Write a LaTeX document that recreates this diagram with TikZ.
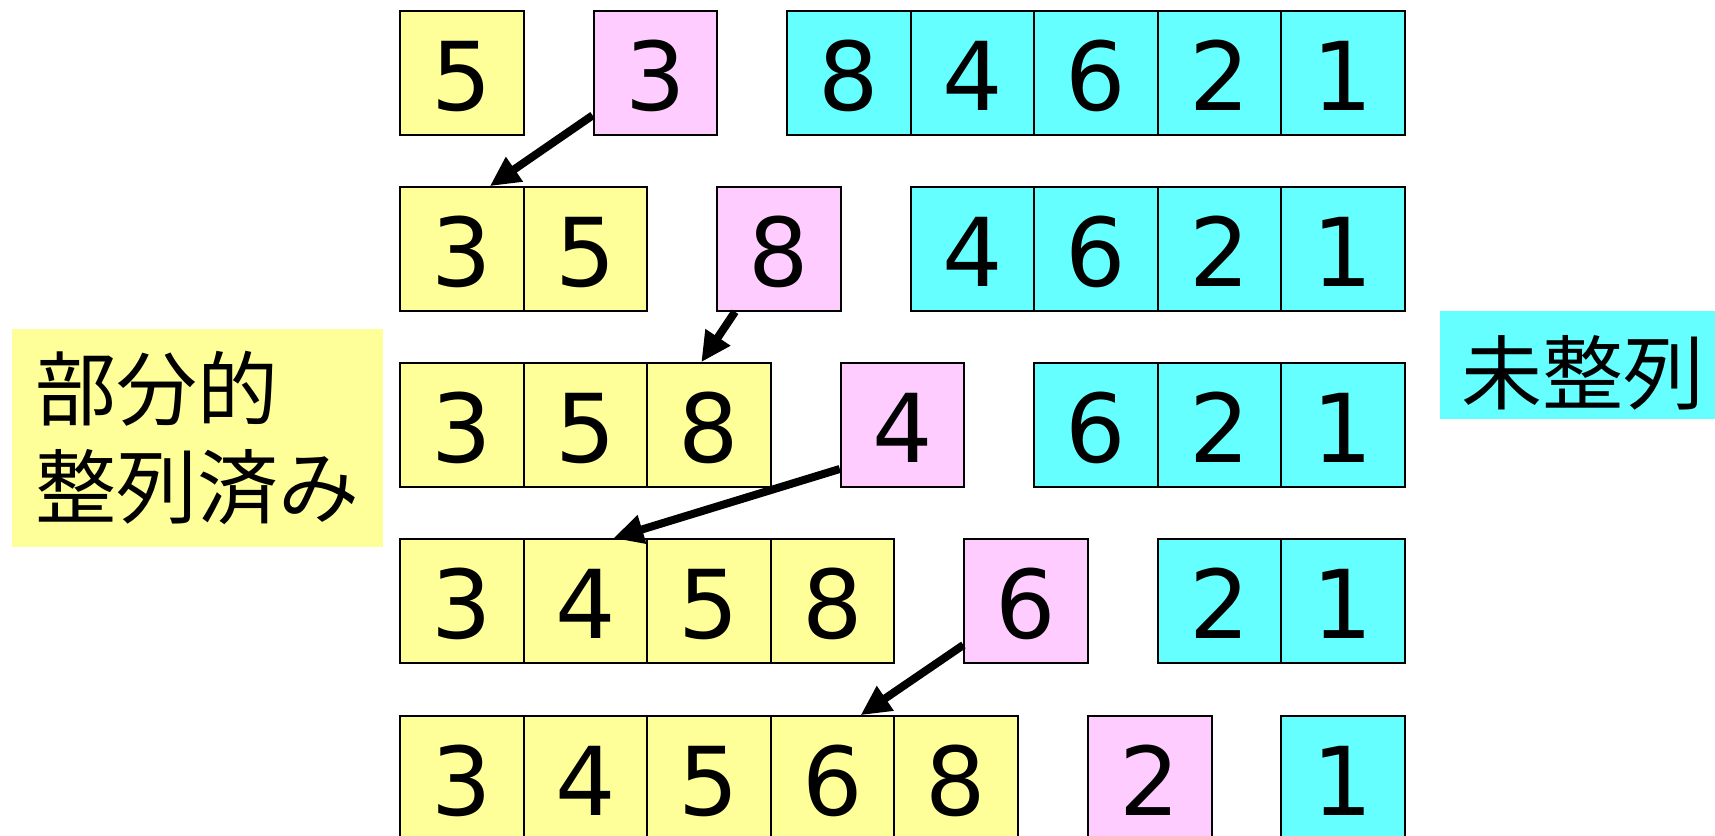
\documentclass[tikz,border=0pt]{standalone}
\usepackage{fontspec}
\setmainfont{DejaVu Sans}
\newfontfamily\jpfont{Noto Sans CJK JP}
\usetikzlibrary{arrows.meta}
\definecolor{sortedfill}{HTML}{FFFF99}
\definecolor{keyfill}{HTML}{FFCCFF}
\definecolor{restfill}{HTML}{66FFFF}

\begin{document}
\begin{tikzpicture}[x=0.5pt, y=-0.5pt,
  cell/.style={draw=black, line width=1pt, minimum size=61.8pt,
    inner sep=0pt, text height=37pt, text depth=0pt,
    font=\fontsize{47.5}{57}\selectfont},
  done/.style={cell, fill=sortedfill},
  key/.style={cell, fill=keyfill},
  rest/.style={cell, fill=restfill},
  move/.style={line width=4pt, -{Triangle[length=15pt, width=14pt]}},
  tag/.style={inner sep=0pt, font=\jpfont\fontsize{40.5}{49}\selectfont}]
  \useasboundingbox (0,0) rectangle (1715,836);
  \clip (0,0) rectangle (1715,836);

  % Row 1: 5 | 3 | 8 4 6 2 1
  \node[done] (s11) at (461.8,73) {5};
  \node[key]  (k1)  at (655.4,73) {3};
  \node[rest] (u11) at (849.2,73) {8};
  \node[rest] (u12) at (972.6,73) {4};
  \node[rest] (u13) at (1096,73) {6};
  \node[rest] (u14) at (1219.4,73) {2};
  \node[rest] (u15) at (1342.8,73) {1};

  % Row 2: 3 5 | 8 | 4 6 2 1
  \node[done] (s21) at (461.8,249) {3};
  \node[done] (s22) at (585.4,249) {5};
  \node[key]  (k2)  at (779,249) {8};
  \node[rest] (u22) at (972.6,249) {4};
  \node[rest] (u23) at (1096,249) {6};
  \node[rest] (u24) at (1219.4,249) {2};
  \node[rest] (u25) at (1342.8,249) {1};

  % Row 3: 3 5 8 | 4 | 6 2 1
  \node[done] (s31) at (461.8,425) {3};
  \node[done] (s32) at (585.4,425) {5};
  \node[done] (s33) at (709,425) {8};
  \node[key]  (k3)  at (902.6,425) {4};
  \node[rest] (u33) at (1096,425) {6};
  \node[rest] (u34) at (1219.4,425) {2};
  \node[rest] (u35) at (1342.8,425) {1};

  % Row 4: 3 4 5 8 | 6 | 2 1
  \node[done] (s41) at (461.8,601) {3};
  \node[done] (s42) at (585.4,601) {4};
  \node[done] (s43) at (709,601) {5};
  \node[done] (s44) at (832.6,601) {8};
  \node[key]  (k4)  at (1026.2,601) {6};
  \node[rest] (u44) at (1219.4,601) {2};
  \node[rest] (u45) at (1342.8,601) {1};

  % Row 5: 3 4 5 6 8 | 2 | 1
  \node[done] (s51) at (461.8,778) {3};
  \node[done] (s52) at (585.4,778) {4};
  \node[done] (s53) at (709,778) {5};
  \node[done] (s54) at (832.6,778) {6};
  \node[done] (s55) at (956.2,778) {8};
  \node[key]  (k5)  at (1149.8,778) {2};
  \node[rest] (u55) at (1342.8,778) {1};

  % insertion moves
  \draw[move] (k1.214) -- (s21.66);
  \draw[move] (k2.235) -- (s33.97);
  \draw[move] (k3.215) -- (s42.66);
  \draw[move] (k4.215) -- (s54.66);

  % side labels
  \node[tag, fill=sortedfill, align=left, minimum width=185.5pt,
    minimum height=109pt] (sortedtag) at (197.5,438) {部分的\\整列済み};
  \node[tag, fill=restfill, minimum width=143pt, minimum height=54pt,
    text height=43pt, text depth=5pt] (resttag) at (1583,365) {未整列};
\end{tikzpicture}
\end{document}
